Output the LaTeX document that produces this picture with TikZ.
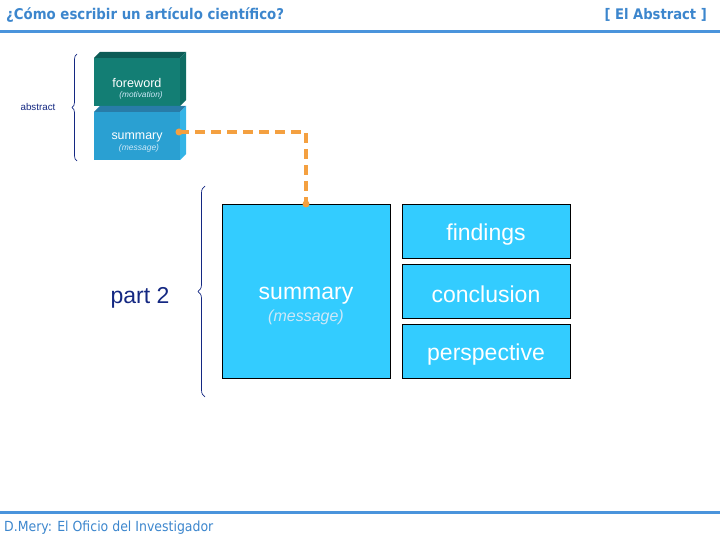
\documentclass[tikz,border=0pt]{standalone}
\usepackage{fontspec}
\setmainfont{Liberation Sans}
\newfontfamily\headfont{DejaVu Sans Condensed}
\usetikzlibrary{decorations.pathreplacing}
\definecolor{hdrblue}{RGB}{60,134,205}
\definecolor{rulblue}{RGB}{74,148,220}
\definecolor{navy}{RGB}{20,40,130}
\definecolor{boxcyan}{RGB}{51,204,255}
\definecolor{dashor}{RGB}{244,160,64}
\definecolor{tealfront}{RGB}{19,126,116}
\definecolor{tealtop}{RGB}{12,92,86}
\definecolor{tealside}{RGB}{15,108,99}
\definecolor{sumfront}{RGB}{42,160,210}
\definecolor{sumtop}{RGB}{40,124,168}
\definecolor{sumside}{RGB}{52,180,230}
\definecolor{paletxt}{RGB}{205,232,248}
\tikzset{
  cbox/.style={draw=black, line width=0.8pt, fill=boxcyan, inner sep=0pt, anchor=north west},
  bigtxt/.style={text=white, font=\fontsize{23}{26}\selectfont, inner sep=0pt},
  bracestyle/.style={draw=navy, line width=0.7pt, decorate, decoration={brace, amplitude=#1}},
  orangeline/.style={draw=dashor, line width=3.5pt, dash pattern=on 10pt off 6pt},
  dotstyle/.style={circle, fill=dashor, inner sep=0pt, minimum size=7pt},
}
\begin{document}
\begin{tikzpicture}[x=1pt,y=-1pt]
\useasboundingbox (0,0) rectangle (720,540);
% header
\node[anchor=west, inner sep=0pt, text=hdrblue, font=\headfont\bfseries\fontsize{14.8}{16}\selectfont] (title) at (6,15) {¿Cómo escribir un artículo científico?};
\node[anchor=east, inner sep=0pt, text=hdrblue, font=\headfont\bfseries\fontsize{14.6}{17}\selectfont] (section) at (707,15) {[ El Abstract ]};
\draw[rulblue, line width=3pt] (0,32) -- (720,32);
% footer
\draw[rulblue, line width=3pt] (0,512) -- (720,512);
\node[anchor=west, inner sep=0pt, text=hdrblue, font=\headfont\fontsize{13.9}{15}\selectfont] (footer) at (4,528) {D.Mery: El Oficio del Investigador};

% 3D stack: foreword
\fill[tealtop] (94,58) -- (100,52) -- (186,52) -- (180,58) -- cycle;
\fill[tealside] (180,58) -- (186,52) -- (186,100) -- (180,106) -- cycle;
\fill[tealfront] (94,58) rectangle (180,106);
\node[text=white, inner sep=0pt, font=\fontsize{12.6}{14}\selectfont] (fw) at (137,82.5) {foreword};
\node[text=paletxt, inner sep=0pt, font=\itshape\fontsize{8.3}{10}\selectfont] (fwm) at (141,95.5) {(motivation)};
% summary block
\fill[sumtop] (94,112) -- (100,106) -- (186,106) -- (180,112) -- cycle;
\fill[sumside] (180,112) -- (186,106) -- (186,154) -- (180,160) -- cycle;
\fill[sumfront] (94,112) rectangle (180,160);
\node[text=white, inner sep=0pt, font=\fontsize{12.4}{14}\selectfont] (sm) at (137,137.5) {summary};
\node[text=paletxt, inner sep=0pt, font=\itshape\fontsize{8.5}{10}\selectfont] (smm) at (139,148.5) {(message)};
% small brace
\draw[bracestyle=5pt] (77,161) -- (77,54);
\node[text=navy, inner sep=0pt, font=\fontsize{9.8}{11}\selectfont] (abs) at (38,106.5) {abstract};

% big boxes
\node[cbox, minimum width=168pt, minimum height=174pt] (big) at (222,204) {};
\node[bigtxt] (bigt) at (306,295.5) {summary};
\node[text=paletxt, inner sep=0pt, font=\itshape\fontsize{16}{18}\selectfont] (bigm) at (306,317) {(message)};
\node[cbox, minimum width=168pt, minimum height=54pt] (find) at (402,204) {};
\node[bigtxt] at (486,234.5) {findings};
\node[cbox, minimum width=168pt, minimum height=54pt] (conc) at (402,264) {};
\node[bigtxt] at (486,294.5) {conclusion};
\node[cbox, minimum width=168pt, minimum height=54pt] (persp) at (402,324) {};
\node[bigtxt] at (486,354.5) {perspective};

% big brace
\draw[bracestyle=7pt] (205,397) -- (205,186);
\node[text=navy, inner sep=0pt, font=\fontsize{23}{26}\selectfont] (p2) at (140,298) {part 2};

% orange connector
\coordinate (c1) at (179,132);
\coordinate (c2) at (306,204);
\draw[orangeline] (c1) -- (306,132) -- (c2);
\node[dotstyle] at (c1) {};
\node[dotstyle] at (c2) {};
\end{tikzpicture}
\end{document}
